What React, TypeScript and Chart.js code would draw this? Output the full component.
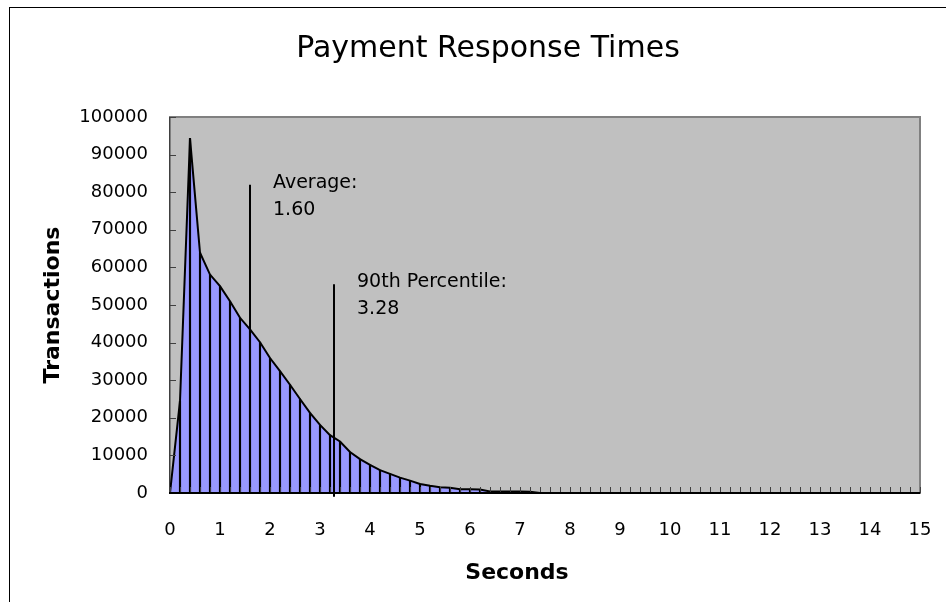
import React, { useEffect, useRef } from 'react';
import { Chart, registerables } from 'chart.js';

Chart.register(...registerables);

// ---- data ----
const seconds = [
  0, 0.2, 0.4, 0.6, 0.8, 1, 1.2, 1.4, 1.6, 1.8,
  2, 2.2, 2.4, 2.6, 2.8, 3, 3.2, 3.4, 3.6, 3.8,
  4, 4.2, 4.4, 4.6, 4.8, 5, 5.2, 5.4, 5.6, 5.8,
  6, 6.2, 6.4, 6.6, 6.8, 7, 7.2, 7.4, 7.6, 7.8,
  8, 8.2, 8.4, 8.6, 8.8, 9, 9.2, 9.4, 9.6, 9.8,
  10, 10.2, 10.4, 10.6, 10.8, 11, 11.2, 11.4, 11.6, 11.8,
  12, 12.2, 12.4, 12.6, 12.8, 13, 13.2, 13.4, 13.6, 13.8,
  14, 14.2, 14.4, 14.6, 14.8, 15,
];

const transactions = [
  0, 24500, 94300, 63900, 58100, 55000, 51000, 46600, 43500, 40100,
  35900, 32400, 28800, 25000, 21300, 18100, 15400, 13700, 10900, 9000,
  7500, 6100, 5100, 4100, 3300, 2400, 1900, 1500, 1400, 1000,
  1000, 900, 400, 400, 400, 400, 300, 0, 0, 0,
  0, 0, 0, 0, 0, 0, 0, 0, 0, 0,
  0, 0, 0, 0, 0, 0, 0, 0, 0, 0,
  0, 0, 0, 0, 0, 0, 0, 0, 0, 0,
  0, 0, 0, 0, 0, 0,
];

const yTickValues = [0, 10000, 20000, 30000, 40000, 50000, 60000, 70000, 80000, 90000, 100000];
const xTickValues = [0, 1, 2, 3, 4, 5, 6, 7, 8, 9, 10, 11, 12, 13, 14, 15];

const markerNames = ['Average:', '90th Percentile:'];
const markerValues = [1.6, 3.28];
const markerLabels = ['1.60', '3.28'];
const markerTops = [82000, 55500];
const markerBottoms = [0, -1000];

const chartTitle = 'Payment Response Times';
const xAxisTitle = 'Seconds';
const yAxisTitle = 'Transactions';

const FONT = 'DejaVu Sans';

const framePlugin = {
  id: 'frame',
  beforeDraw(chart: any) {
    const { ctx, chartArea: a, width, height } = chart;
    ctx.save();
    ctx.fillStyle = '#ffffff';
    ctx.fillRect(0, 0, width, height);
    ctx.strokeStyle = '#000000';
    ctx.lineWidth = 1;
    ctx.strokeRect(9.5, 7.5, width + 40, height + 40);
    ctx.fillStyle = '#C0C0C0';
    ctx.fillRect(a.left, a.top, a.right - a.left, a.bottom - a.top);
    ctx.strokeStyle = '#808080';
    ctx.lineWidth = 2;
    ctx.strokeRect(a.left, a.top, a.right - a.left, a.bottom - a.top);
    // chart title
    ctx.fillStyle = '#000000';
    ctx.font = `30px "${FONT}"`;
    ctx.textAlign = 'center';
    ctx.textBaseline = 'alphabetic';
    ctx.fillText(chartTitle, 488, 57);
    // x axis title
    ctx.font = `bold 22px "${FONT}"`;
    ctx.fillText(xAxisTitle, 517, 579);
    ctx.restore();
  },
  afterDatasetsDraw(chart: any) {
    const { ctx, chartArea: a } = chart;
    const xs = chart.scales.x;
    const ys = chart.scales.y;
    ctx.save();
    // inner x ticks
    ctx.strokeStyle = '#404040';
    ctx.lineWidth = 1;
    ctx.beginPath();
    seconds.forEach((s) => {
      const px = Math.round(xs.getPixelForValue(s)) + 0.5;
      ctx.moveTo(px, a.bottom);
      ctx.lineTo(px, a.bottom - 6);
    });
    // inner y ticks
    yTickValues.forEach((v) => {
      const py = Math.round(ys.getPixelForValue(v)) + 0.5;
      ctx.moveTo(a.left, py);
      ctx.lineTo(a.left + 6, py);
    });
    ctx.stroke();
    // y axis line
    ctx.strokeStyle = '#404040';
    ctx.lineWidth = 1;
    ctx.beginPath();
    ctx.moveTo(a.left - 0.5, a.top);
    ctx.lineTo(a.left - 0.5, a.bottom);
    ctx.stroke();
    // x axis line
    ctx.strokeStyle = '#000000';
    ctx.lineWidth = 2;
    ctx.beginPath();
    ctx.moveTo(a.left - 1, a.bottom);
    ctx.lineTo(a.right, a.bottom);
    ctx.stroke();
    // marker labels
    ctx.fillStyle = '#000000';
    ctx.font = `19px "${FONT}"`;
    ctx.textAlign = 'left';
    ctx.textBaseline = 'alphabetic';
    markerNames.forEach((name, i) => {
      const px = xs.getPixelForValue(markerValues[i]) + 23;
      const py = ys.getPixelForValue(markerTops[i]);
      ctx.fillText(name, px, py + 3);
      ctx.fillText(markerLabels[i], px, py + 30);
    });
    ctx.restore();
  },
};

export default function App() {
  const ref = useRef<HTMLCanvasElement | null>(null);

  useEffect(() => {
    document.body.style.margin = '0';
    const canvas = ref.current;
    if (!canvas) return;

    const areaData = seconds.map((s, i) => ({ x: s, y: transactions[i] }));

    const markerSets = markerValues.map((v, i) => ({
      type: 'line' as const,
      data: [
        { x: v, y: markerBottoms[i] },
        { x: v, y: markerTops[i] },
      ],
      borderColor: '#000000',
      borderWidth: 2,
      pointRadius: 0,
      fill: false,
      clip: false as any,
      order: 0,
    }));

    const chart = new Chart(canvas, {
      type: 'line',
      data: {
        datasets: [
          {
            type: 'line',
            data: areaData,
            borderColor: '#000000',
            borderWidth: 2,
            backgroundColor: '#9999FF',
            fill: 'origin',
            pointRadius: 0,
            tension: 0,
            order: 1,
          } as any,
          {
            type: 'bar',
            data: areaData,
            backgroundColor: '#000000',
            borderWidth: 0,
            barThickness: 1.5,
            order: 2,
          } as any,
          ...markerSets,
        ],
      },
      options: {
        animation: false,
        responsive: false,
        maintainAspectRatio: false,
        devicePixelRatio: 1,
        layout: { padding: { left: 0, right: 26, top: 117, bottom: 0 }, autoPadding: false },
        plugins: {
          legend: { display: false },
          tooltip: { enabled: false },
          filler: { drawTime: 'beforeDatasetsDraw' },
          title: { display: false },
        } as any,
        scales: {
          x: {
            type: 'linear',
            min: 0,
            max: 15,
            offset: false,
            afterBuildTicks: (s: any) => {
              s.ticks = xTickValues.map((v) => ({ value: v }));
            },
            afterFit: (s: any) => {
              s.height = 109;
            },
            grid: {
              display: true,
              drawOnChartArea: false,
              drawTicks: true,
              tickLength: 27,
              color: 'rgba(0,0,0,0)',
              offset: false,
            },
            border: { display: false },
            ticks: {
              color: '#000000',
              font: { family: FONT, size: 18 },
              padding: 0,
              maxRotation: 0,
              autoSkip: false,
              callback: (v: any) => String(v),
            },
            title: { display: false },
          },
          y: {
            type: 'linear',
            min: 0,
            max: 100000,
            afterBuildTicks: (s: any) => {
              s.ticks = yTickValues.map((v) => ({ value: v }));
            },
            afterFit: (s: any) => {
              s.width = 170;
            },
            grid: {
              display: true,
              drawOnChartArea: false,
              drawTicks: true,
              tickLength: 22,
              color: 'rgba(0,0,0,0)',
            },
            border: { display: false },
            ticks: {
              color: '#000000',
              font: { family: FONT, size: 18 },
              padding: 0,
              autoSkip: false,
              callback: (v: any) => String(v),
            },
            title: {
              display: true,
              text: yAxisTitle,
              color: '#000000',
              font: { family: FONT, size: 22, weight: 'bold' },
              padding: { top: 40, bottom: 0 },
            },
          },
        },
      } as any,
      plugins: [framePlugin],
    });

    return () => chart.destroy();
  }, []);

  return (
    <div style={{ width: 946, height: 602 }}>
      <canvas ref={ref} width={946} height={602} style={{ display: 'block' }} />
    </div>
  );
}
